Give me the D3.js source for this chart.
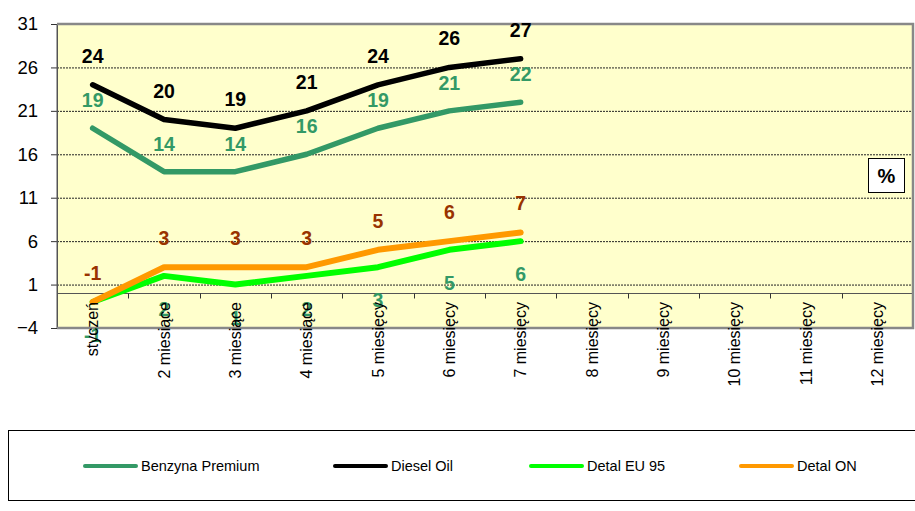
<!DOCTYPE html>
<html>
<head>
<meta charset="utf-8">
<script src="https://cdn.jsdelivr.net/npm/d3@7"></script>
<style>
  body { margin: 0; background: #fff; }
  svg { display: block; font-family: Arial, "Liberation Sans", sans-serif; }
</style>
</head>
<body>
<script>
// chart data
const months = ["styczeń", "2 miesiące", "3 miesiące", "4 miesiące", "5 miesięcy", "6 miesięcy",
  "7 miesięcy", "8 miesięcy", "9 miesięcy", "10 miesięcy", "11 miesięcy", "12 miesięcy"];
const benzynaPremium = [19, 14, 14, 16, 19, 21, 22];
const dieselOil = [24, 20, 19, 21, 24, 26, 27];
const detalEU95 = [-1, 2, 1, 2, 3, 5, 6];
const detalON = [-1, 3, 3, 3, 5, 6, 7];
const yTicks = [-4, 1, 6, 11, 16, 21, 26, 31];
const seriesNames = ["Benzyna Premium", "Diesel Oil", "Detal EU 95", "Detal ON"];

const width = 915, height = 511;
const plot = {left: 57, top: 24, right: 913, bottom: 328};

const svg = d3.select("body").append("svg")
    .attr("width", width)
    .attr("height", height);

const x = d3.scaleBand()
    .domain(months)
    .range([plot.left, plot.right])
    .padding(0);

const y = d3.scaleLinear()
    .domain([-4, 31])
    .range([plot.bottom, plot.top]);

// plot background
svg.append("rect")
    .attr("x", plot.left)
    .attr("y", plot.top)
    .attr("width", plot.right - plot.left)
    .attr("height", plot.bottom - plot.top)
    .attr("fill", "#FFFFCC");

// dotted gridlines
svg.append("g")
    .selectAll("line")
    .data(yTicks.filter(d => d > -4 && d < 31))
    .enter()
    .append("line")
        .attr("x1", plot.left)
        .attr("x2", plot.right)
        .attr("y1", d => y(d) + 0.5)
        .attr("y2", d => y(d) + 0.5)
        .attr("stroke", "#222")
        .attr("stroke-width", 1)
        .attr("stroke-dasharray", "2,1");

// y axis
const yAxis = svg.append("g")
    .attr("transform", `translate(${plot.left},0)`)
    .call(d3.axisLeft(y).tickValues(yTicks).tickSize(6).tickPadding(13));
yAxis.select(".domain").attr("stroke", "#555");
yAxis.selectAll(".tick line").attr("stroke", "#333");
yAxis.selectAll("text")
    .attr("font-size", 18.5)
    .attr("fill", "#000")
    .attr("font-family", "Arial, 'Liberation Sans', sans-serif");

// category axis crossing at zero
const zeroY = Math.round(y(0)) + 0.5;
svg.append("line")
    .attr("x1", plot.left)
    .attr("x2", plot.right)
    .attr("y1", zeroY)
    .attr("y2", zeroY)
    .attr("stroke", "#555")
    .attr("stroke-width", 1);

svg.append("g")
    .selectAll("line")
    .data(months.slice(1).concat(["end"]))
    .enter()
    .append("line")
        .attr("x1", (d, i) => Math.round(plot.left + x.bandwidth() * (i + 1)) + 0.5)
        .attr("x2", (d, i) => Math.round(plot.left + x.bandwidth() * (i + 1)) + 0.5)
        .attr("y1", zeroY)
        .attr("y2", zeroY + 5)
        .attr("stroke", "#333");

// plot border (gray frame)
svg.append("path")
    .attr("d", `M${plot.left},${plot.bottom}V${plot.top}`)
    .attr("stroke", "#555")
    .attr("stroke-width", 1)
    .attr("fill", "none");
svg.append("path")
    .attr("d", `M${plot.left},${plot.top}H${plot.right}V${plot.bottom}H${plot.left}`)
    .attr("stroke", "#888")
    .attr("stroke-width", 2.5)
    .attr("fill", "none");

// lines
const series = [
    {name: seriesNames[0], values: benzynaPremium, color: "#339966", width: 5.5},
    {name: seriesNames[1], values: dieselOil, color: "#000000", width: 5.5},
    {name: seriesNames[2], values: detalEU95, color: "#00FF00", width: 6},
    {name: seriesNames[3], values: detalON, color: "#FF9900", width: 6}
];

const line = d3.line()
    .x((d, i) => x(months[i]) + x.bandwidth() / 2)
    .y(d => y(d));

svg.append("g")
    .selectAll("path")
    .data(series)
    .enter()
    .append("path")
        .attr("d", d => line(d.values))
        .attr("fill", "none")
        .attr("stroke", d => d.color)
        .attr("stroke-width", d => d.width)
        .attr("stroke-linecap", "round")
        .attr("stroke-linejoin", "round");

// data labels
const labelSets = [
    {values: benzynaPremium, color: "#339966", dy: -21},
    {values: dieselOil, color: "#000000", dy: -22},
    {values: detalEU95, color: "#339966", dy: 40},
    {values: detalON, color: "#993300", dy: -22}
];

labelSets.forEach(set => {
    svg.append("g")
        .selectAll("text")
        .data(set.values)
        .enter()
        .append("text")
            .attr("x", (d, i) => x(months[i]) + x.bandwidth() / 2)
            .attr("y", d => y(d) + set.dy)
            .attr("text-anchor", "middle")
            .attr("font-size", 19.5)
            .attr("font-weight", "bold")
            .attr("fill", set.color)
            .text(d => d);
});

// x labels (rotated)
svg.append("g")
    .selectAll("text")
    .data(months)
    .enter()
    .append("text")
        .attr("transform", d => `translate(${x(d) + x.bandwidth() / 2},302) rotate(-90)`)
        .attr("text-anchor", "end")
        .attr("dy", "0.35em")
        .attr("font-size", 16)
        .attr("fill", "#000")
        .text(d => d);

// "%" box
svg.append("rect")
    .attr("x", 868.5)
    .attr("y", 158.5)
    .attr("width", 36)
    .attr("height", 34)
    .attr("fill", "#fff")
    .attr("stroke", "#000");
svg.append("text")
    .attr("x", 886.5)
    .attr("y", 183)
    .attr("text-anchor", "middle")
    .attr("font-size", 20)
    .attr("font-weight", "bold")
    .text("%");

// legend
svg.append("rect")
    .attr("x", 8.5)
    .attr("y", 430.5)
    .attr("width", 920)
    .attr("height", 70)
    .attr("fill", "#fff")
    .attr("stroke", "#000");

const legendX = [85, 335, 531, 741];
const legend = svg.append("g")
    .selectAll("g")
    .data(series)
    .enter()
    .append("g")
        .attr("transform", (d, i) => `translate(${legendX[i]},466)`);

legend.append("line")
    .attr("x1", 0)
    .attr("x2", 51)
    .attr("stroke", d => d.color)
    .attr("stroke-width", 4)
    .attr("stroke-linecap", "round");

legend.append("text")
    .attr("x", 56)
    .attr("dy", "0.35em")
    .attr("font-size", 14.5)
    .attr("fill", "#000")
    .text(d => d.name);
</script>
</body>
</html>
